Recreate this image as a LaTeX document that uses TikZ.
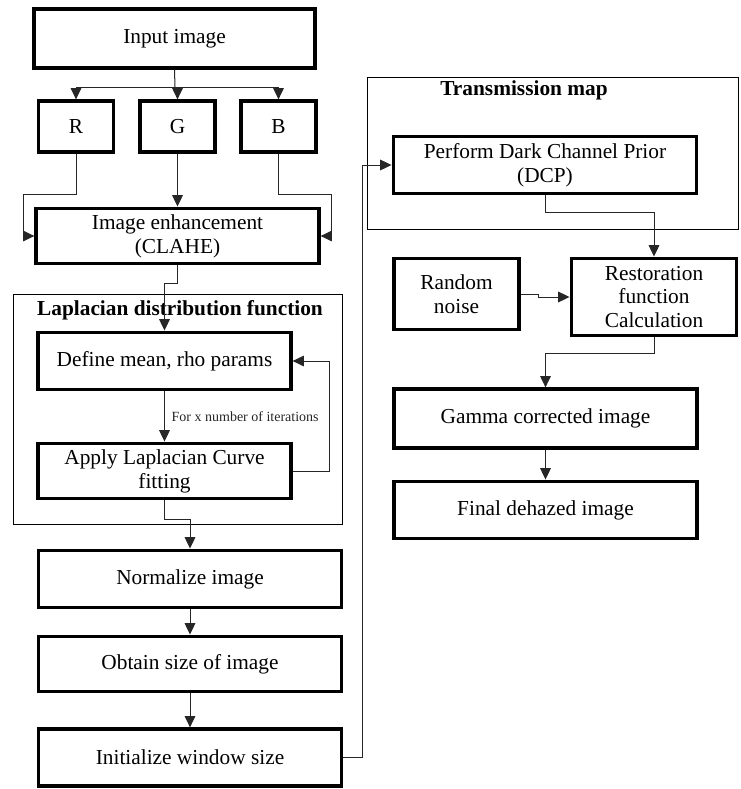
\documentclass[tikz,border=0pt]{standalone}
\usepackage{fontspec}
\setmainfont{Liberation Serif}
\usetikzlibrary{arrows.meta,calc}
\tikzset{
  box/.style={draw, line width=2.7pt, rectangle, inner sep=0pt, align=center,
    font=\fontsize{16}{18}\selectfont},
  frame/.style={draw, line width=0.7pt},
  conn/.style={draw, line width=0.75pt, black!85},
  arr/.style={conn, -{Triangle[length=8.5pt,width=8pt]}},
  ttl/.style={font=\fontsize{16}{18}\selectfont\bfseries, inner sep=0pt},
  small/.style={font=\fontsize{10.5}{12}\selectfont, inner sep=1pt}
}
\begin{document}
\begin{tikzpicture}[x=0.75pt,y=-0.75pt]
\useasboundingbox (0,0) rectangle (740,789);
% frames
\draw[frame] (13,294) rectangle (342,524);
\draw[frame] (367,77) rectangle (738,229);
\node[ttl] (lapt) at (180,310) {Laplacian distribution function};
\node[ttl] (trt) at (524,90) {Transmission map};
% left column
\node[box, minimum width=210.5pt, minimum height=44pt] (in) at (174.5,38.5) {Input image};
\node[box, minimum width=56.5pt, minimum height=38pt] (R) at (76,126.5) {R};
\node[box, minimum width=56pt, minimum height=38pt] (G) at (177.5,126.5) {G};
\node[box, minimum width=56pt, minimum height=38pt] (B) at (278.5,126.5) {B};
\node[box, minimum width=212pt, minimum height=41.5pt] (enh) at (177.5,236) {Image enhancement\\(CLAHE)};
\node[box, minimum width=189.5pt, minimum height=43pt] (def) at (164.5,361) {Define mean, rho params};
\node[box, minimum width=189.5pt, minimum height=41.5pt] (app) at (164.5,471) {Apply Laplacian Curve\\fitting};
\node[box, minimum width=227.5pt, minimum height=43pt] (norm) at (190,579) {Normalize image};
\node[box, minimum width=227.5pt, minimum height=41.5pt] (obt) at (190,664) {Obtain size of image};
\node[box, minimum width=227.5pt, minimum height=42.5pt] (init) at (190,757.5) {Initialize window size};
% right column
\node[box, minimum width=227.5pt, minimum height=43pt] (dcp) at (545,165) {Perform Dark Channel Prior\\(DCP)};
\node[box, minimum width=93.5pt, minimum height=53.5pt] (noise) at (456.5,294) {Random\\noise};
\node[box, minimum width=124pt, minimum height=58pt, font=\fontsize{16}{17.5}\selectfont] (rest) at (654,297) {Restoration\\function\\Calculation};
\node[box, minimum width=227pt, minimum height=44pt] (gam) at (545.5,418.5) {Gamma corrected image};
\node[box, minimum width=227pt, minimum height=43pt] (fin) at (545.5,510) {Final dehazed image};
% connectors
\draw[conn] (in.south) -- (175,87) coordinate (split);
\draw[conn] (77,87) -- (279,87);
\draw[arr] (split) -| (R.north);
\draw[arr] (split) -| (B.north);
\draw[arr] (G.north |- split) -- (G.north);
\draw[arr] (R.south) -- ++(0,41) -| (23,236) -- (enh.west);
\draw[arr] (B.south) -- ++(0,41) -| (331,236) -- (enh.east);
\draw[arr] (G.south) -- (enh.north);
\draw[arr] (enh.south) -- ++(0,18) -| (def.north);
\draw[arr] (def.south) -- node[small, right, pos=0.5, xshift=4pt] (lbl) {For x number of iterations} (app.north);
\draw[arr] (app.east) -- ++(37,0) |- (def.east);
\draw[arr] (app.south) -- ++(0,19) -| (norm.north);
\draw[arr] (norm.south) -- (obt.north);
\draw[arr] (obt.south) -- (init.north);
\draw[arr] (init.east) -- ++(19,0) |- (dcp.west);
\draw[arr] (dcp.south) -- ++(0,17) -| (rest.north);
\draw[arr] (noise.east) -- ++(18,0) |- (rest.west);
\draw[arr] (rest.south) -- ++(0,16) -| (gam.north);
\draw[arr] (gam.south) -- (fin.north);
\end{tikzpicture}
\end{document}
